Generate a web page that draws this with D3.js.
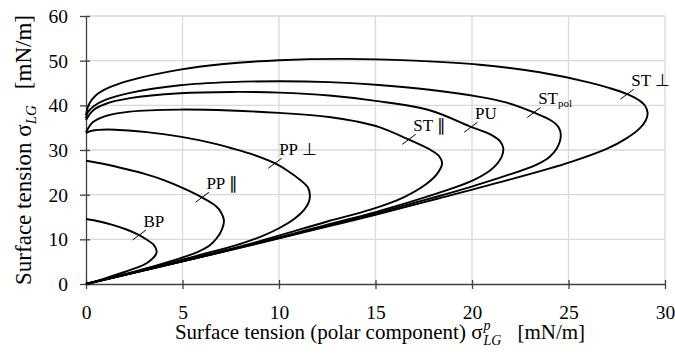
<!DOCTYPE html>
<html>
<head>
<meta charset="utf-8">
<script src="https://cdn.jsdelivr.net/npm/d3@7"></script>
<style>
  html, body { margin: 0; padding: 0; background: #fff; }
  svg { display: block; }
  text { font-family: "Liberation Serif", "Times New Roman", serif; fill: #000; }
</style>
</head>
<body>
<svg id="chart" width="675" height="359"></svg>
<script>
// ---- data ----
const xTickValues = [0, 5, 10, 15, 20, 25, 30];
const yTickValues = [0, 10, 20, 30, 40, 50, 60];

const seriesNames = ["BP", "PP ∥", "PP ⊥", "ST ∥", "PU", "STpol", "ST ⊥"];

// points: [polar component σp, total σ], lower branch from origin, round the nose, upper branch back to σp = 0
const bp = [[0,0],[0.9,1.15],[1.76,2.35],[2.6,3.6],[3.14,4.65],[3.45,5.7],[3.62,6.6],[3.66,7.4],[3.5,8.8],[3.14,9.95],[2.76,10.95],[2.1,12.2],[1.42,13.2],[0.7,14.0],[0,14.55]];
const ppPar = [[0,0],[1.5,1.65],[3.14,3.55],[4.87,5.75],[5.8,7.2],[6.4,8.6],[6.8,10.4],[7.05,12.3],[7.15,14.2],[7.0,16.0],[6.77,17.3],[6.0,19.4],[5.0,21.5],[4.0,23.3],[3.0,24.7],[2.0,25.8],[1.0,26.8],[0,27.6]];
const ppPerp = [[0,0],[3,3.2],[6,6.6],[8,9.0],[9,10.5],[10.05,12.6],[10.8,14.6],[11.3,16.6],[11.55,18.4],[11.6,19.9],[11.5,21.6],[11.1,23.3],[10.5,25.2],[9.8,27.0],[8.7,28.9],[7.46,30.5],[6.6,31.5],[4.87,33.0],[3.14,34.0],[1.1,34.6],[0.3,34.3],[0,33.8]];
const stPar = [[0,0],[5,5.2],[9,9.6],[12.5,14.0],[14.7,16.6],[16.4,19.3],[17.65,22.45],[18.2,24.7],[18.45,27.0],[18.3,28.6],[17.9,29.9],[16.74,32.3],[15.2,35.1],[14,36.4],[12.6,37.4],[10,38.3],[7.46,38.85],[4.87,39.05],[2.28,38.6],[1.0,37.6],[0.35,36.2],[0,34.0]];
const pu = [[0,0],[5,5.1],[10,10.4],[12.5,13.3],[15,16.1],[18.2,20.3],[19.9,22.9],[20.9,25.3],[21.3,26.9],[21.55,28.6],[21.62,30.4],[21.45,32.0],[21.0,33.4],[19.94,35.2],[17.8,38.9],[15,41.0],[12.6,42.2],[10,42.85],[7.5,43.0],[4.87,42.7],[2.28,41.6],[1.0,40.3],[0.35,38.8],[0,36.7]];
const stPol = [[0,0],[5,5.1],[10,10.3],[12.5,13.0],[15,15.8],[18.3,19.7],[19.9,21.7],[21.8,24.3],[23.35,26.75],[24.0,28.4],[24.4,30.4],[24.6,33.2],[24.5,35.0],[24.1,36.6],[23.2,38.4],[21.8,40.6],[20.4,41.9],[17.8,43.5],[15,44.6],[12.6,45.2],[10,45.4],[7.5,45.2],[4.87,44.5],[2.28,42.8],[1.0,41.2],[0.4,39.8],[0.1,38.5],[0,37.1]];
const stPerp = [[0,0],[5,5.05],[10,10.2],[12.5,12.85],[15,15.5],[18.3,19.2],[21.8,23.2],[25.1,27.3],[27,30.3],[28,32.6],[28.7,34.9],[29.0,36.6],[29.1,38.3],[28.95,40.0],[28.7,41.0],[28.04,42.5],[27.1,43.9],[26.1,45.1],[23.5,47.4],[20.4,49.1],[17,50.0],[13.5,50.4],[10,50.1],[7,49.2],[4.87,48.0],[2.28,45.6],[1.2,44.0],[0.5,42.2],[0.15,40.2],[0,37.8]];

const seriesPoints = [bp, ppPar, ppPerp, stPar, pu, stPol, stPerp];
// label leader positions on each curve (data units)
const labelAnchors = [[2.76,10.97],[6.02,19.41],[9.79,27.02],[16.74,32.4],[19.94,35.1],[23.21,38.4],[28.04,42.5]];

// ---- drawing ----
const svg = d3.select("#chart");
const x = d3.scaleLinear().domain([0, 30]).range([86, 665]);
const y = d3.scaleLinear().domain([0, 60]).range([284, 16]);
const serif = '"Liberation Serif", "Times New Roman", serif';

// gridlines
const grid = svg.append("g");
grid.selectAll(".vg").data(xTickValues.filter(d => d > 0)).enter().append("line")
  .attr("x1", d => x(d)).attr("x2", d => x(d)).attr("y1", y(0)).attr("y2", y(60))
  .attr("stroke", "#d9d9d9").attr("stroke-width", 1.3);
grid.selectAll(".hg").data(yTickValues.filter(d => d > 0)).enter().append("line")
  .attr("x1", x(0)).attr("x2", x(30)).attr("y1", d => y(d)).attr("y2", d => y(d))
  .attr("stroke", "#d9d9d9").attr("stroke-width", 1.3);

// axes
const axisColor = "#404040";
const xAxis = svg.append("g").attr("transform", `translate(0,${y(0)})`)
  .call(d3.axisBottom(x).tickValues(xTickValues).tickSizeOuter(0).tickFormat(d3.format("d")))
  .attr("font-family", serif).attr("font-size", 19.5);
xAxis.select(".domain").attr("stroke", axisColor).attr("stroke-width", 1.3);
xAxis.selectAll(".tick line").attr("stroke", axisColor).attr("stroke-width", 1.3).attr("y1", -4).attr("y2", 5);
xAxis.selectAll(".tick text").attr("y", 35).attr("dy", null)
  .style("font-family", serif).style("font-size", "19.5px").attr("fill", "#000");

const yAxis = svg.append("g").attr("transform", `translate(${x(0)},0)`)
  .call(d3.axisLeft(y).tickValues(yTickValues).tickSizeOuter(0).tickFormat(d3.format("d")))
  .attr("font-family", serif).attr("font-size", 19.5);
yAxis.select(".domain").attr("stroke", axisColor).attr("stroke-width", 1.3);
yAxis.selectAll(".tick line").attr("stroke", axisColor).attr("stroke-width", 1.3).attr("x1", 4).attr("x2", -6);
yAxis.selectAll(".tick text").attr("x", -18).attr("dy", "0.33em")
  .style("font-family", serif).style("font-size", "19.5px").attr("fill", "#000");

// curves
const line = d3.line().x(d => x(d[0])).y(d => y(d[1])).curve(d3.curveCatmullRom.alpha(0.5));
svg.append("g").selectAll("path").data(seriesPoints).enter().append("path")
  .attr("d", line).attr("fill", "none").attr("stroke", "#000").attr("stroke-width", 1.9)
  .attr("stroke-linejoin", "round");

// labels with leader ticks
const lab = svg.append("g");
labelAnchors.forEach((a, i) => {
  const cx = x(a[0]), cy = y(a[1]);
  lab.append("line").attr("x1", cx - 6.7).attr("y1", cy + 5).attr("x2", cx + 6.7).attr("y2", cy - 5)
    .attr("stroke", "#000").attr("stroke-width", 1);
  const t = lab.append("text").attr("x", cx + 4.2).attr("y", cy - 8)
    .style("font-family", serif).style("font-size", "17px");
  const name = seriesNames[i];
  if (name === "STpol") {
    t.append("tspan").text("ST");
    t.append("tspan").attr("dy", 3).style("font-size", "11px").text("pol");
  } else {
    t.text(name);
  }
});

// axis titles
const xt = svg.append("text").attr("x", 380).attr("y", 339).attr("text-anchor", "middle")
  .style("font-family", serif).style("font-size", "21px");
xt.append("tspan").text("Surface tension (polar component) σ");
xt.append("tspan").attr("dy", -9).attr("dx", 1).style("font-size", "14px").style("font-style", "italic").text("p");
xt.append("tspan").attr("dy", 15).attr("dx", -7).style("font-size", "14px").style("font-style", "italic").text("LG");
xt.append("tspan").attr("dy", -6).attr("dx", 16).text("[mN/m]");

const yt = svg.append("text").attr("transform", "translate(31,150) rotate(-90)").attr("text-anchor", "middle")
  .style("font-family", serif).style("font-size", "23px");
yt.append("tspan").text("Surface tension σ");
yt.append("tspan").attr("dy", 5).style("font-size", "15px").style("font-style", "italic").text("LG");
yt.append("tspan").attr("dy", -5).attr("dx", 16).text("[mN/m]");
</script>
</body>
</html>
